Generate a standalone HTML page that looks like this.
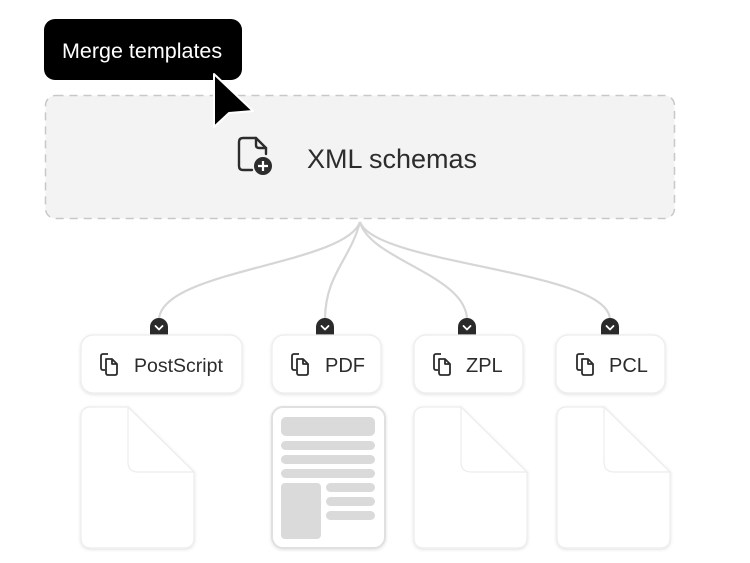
<!DOCTYPE html>
<html><head><meta charset="utf-8"><style>
html,body{margin:0;padding:0;background:#fff;width:750px;height:563px;overflow:hidden}
svg{display:block}
text{font-family:"Liberation Sans",sans-serif}
</style></head><body>
<svg width="750" height="563" viewBox="0 0 750 563" xmlns="http://www.w3.org/2000/svg">
<defs>
<filter id="sh" x="-20%" y="-20%" width="140%" height="140%"><feDropShadow dx="0" dy="1" stdDeviation="1.5" flood-color="#000" flood-opacity="0.12"/></filter>
</defs>
<rect x="45.5" y="95.5" width="629" height="123" rx="10" fill="#f3f3f3" stroke="#c8c8c8" stroke-width="1.5" stroke-dasharray="8 6"/>
<g fill="none" stroke="#2c2c2c" stroke-width="2.4" stroke-linejoin="round" stroke-linecap="round">
<path d="M252 170 H243 Q239 170 239 166 V142 Q239 138 243 138 H256 L266 148 V154"/>
<path d="M256 138 V145 Q256 148 259 148 H266"/>
</g>
<circle cx="263" cy="166" r="9" fill="#2c2c2c"/>
<path d="M263 161 V171 M258 166 H268" stroke="#fff" stroke-width="2.2"/>
<text x="307" y="168" font-size="27" fill="#2c2c2c">XML schemas</text>
<rect x="44" y="19" width="198" height="61" rx="11" fill="#000"/>
<text x="62" y="58" font-size="21.5" fill="#fff">Merge templates</text>
<path d="M214 74 L214 127 L229 113 L253 111 Z" fill="#000" stroke="#fff" stroke-width="2" stroke-linejoin="round"/>
<g fill="none" stroke="#d6d6d6" stroke-width="2.2">
<path d="M360 222 C 345 265, 160 270, 159 320"/>
<path d="M360 222 C 350 260, 325 275, 325 320"/>
<path d="M360 222 C 370 260, 467 275, 467 320"/>
<path d="M360 222 C 375 265, 610 270, 610 320"/>
</g>
<g fill="#2a2a2a">
<path d="M150 337 V327 A9 9 0 0 1 168 327 V337 Z"/>
<path d="M316 337 V327 A9 9 0 0 1 334 327 V337 Z"/>
<path d="M458 337 V327 A9 9 0 0 1 476 327 V337 Z"/>
<path d="M601 337 V327 A9 9 0 0 1 619 327 V337 Z"/>
</g>
<g fill="none" stroke="#fff" stroke-width="1.8" stroke-linecap="round" stroke-linejoin="round">
<path d="M155.5 326 L159 329.5 L162.5 326"/>
<path d="M321.5 326 L325 329.5 L328.5 326"/>
<path d="M463.5 326 L467 329.5 L470.5 326"/>
<path d="M606.5 326 L610 329.5 L613.5 326"/>
</g>
<g fill="#fff" stroke="#ececec" stroke-width="1.2" filter="url(#sh)">
<rect x="81" y="335" width="161" height="58" rx="12"/>
<rect x="272" y="335" width="109" height="58" rx="12"/>
<rect x="414" y="335" width="109" height="58" rx="12"/>
<rect x="556" y="335" width="109" height="58" rx="12"/>
</g>
<g fill="none" stroke="#2c2c2c" stroke-width="1.8" stroke-linejoin="round">
<g transform="translate(101,354)"><path d="M4 16 H2 Q0 16 0 14 V2 Q0 0 2 0 H7"/><path d="M5 5 H11 L16 10 V19 Q16 21 14 21 H7 Q5 21 5 19 Z"/><path d="M11 5 V10 H16"/></g>
<g transform="translate(292,354)"><path d="M4 16 H2 Q0 16 0 14 V2 Q0 0 2 0 H7"/><path d="M5 5 H11 L16 10 V19 Q16 21 14 21 H7 Q5 21 5 19 Z"/><path d="M11 5 V10 H16"/></g>
<g transform="translate(434,354)"><path d="M4 16 H2 Q0 16 0 14 V2 Q0 0 2 0 H7"/><path d="M5 5 H11 L16 10 V19 Q16 21 14 21 H7 Q5 21 5 19 Z"/><path d="M11 5 V10 H16"/></g>
<g transform="translate(577,354)"><path d="M4 16 H2 Q0 16 0 14 V2 Q0 0 2 0 H7"/><path d="M5 5 H11 L16 10 V19 Q16 21 14 21 H7 Q5 21 5 19 Z"/><path d="M11 5 V10 H16"/></g>
</g>
<g font-size="20" fill="#2c2c2c">
<text x="134" y="372" font-size="19.5">PostScript</text>
<text x="325" y="372">PDF</text>
<text x="466" y="372">ZPL</text>
<text x="609" y="372">PCL</text>
</g>
<g fill="#fff" stroke="#ececec" stroke-width="1.2" filter="url(#sh)">
<path transform="translate(81,407)" d="M10 0 H47 L113 65 V131 Q113 141 103 141 H10 Q0 141 0 131 V10 Q0 0 10 0 Z"/>
<path transform="translate(414,407)" d="M10 0 H47 L113 65 V131 Q113 141 103 141 H10 Q0 141 0 131 V10 Q0 0 10 0 Z"/>
<path transform="translate(557,407)" d="M10 0 H47 L113 65 V131 Q113 141 103 141 H10 Q0 141 0 131 V10 Q0 0 10 0 Z"/>
<path transform="translate(81,407)" d="M47 0 V55 Q47 65 57 65 H113 Z"/>
<path transform="translate(414,407)" d="M47 0 V55 Q47 65 57 65 H113 Z"/>
<path transform="translate(557,407)" d="M47 0 V55 Q47 65 57 65 H113 Z"/>
<rect x="272" y="407" width="113" height="141" rx="11" stroke="#e0e0e0" stroke-width="2"/>
</g>
<g fill="#dadada">
<rect x="281" y="417" width="94" height="19" rx="5"/>
<rect x="281" y="441" width="94" height="9" rx="4.5"/>
<rect x="281" y="455" width="94" height="9" rx="4.5"/>
<rect x="281" y="469" width="94" height="9" rx="4.5"/>
<rect x="281" y="483" width="40" height="56" rx="4"/>
<rect x="326" y="483" width="49" height="9" rx="4.5"/>
<rect x="326" y="497" width="49" height="9" rx="4.5"/>
<rect x="326" y="511" width="49" height="9" rx="4.5"/>
</g>
</svg>
</body></html>
